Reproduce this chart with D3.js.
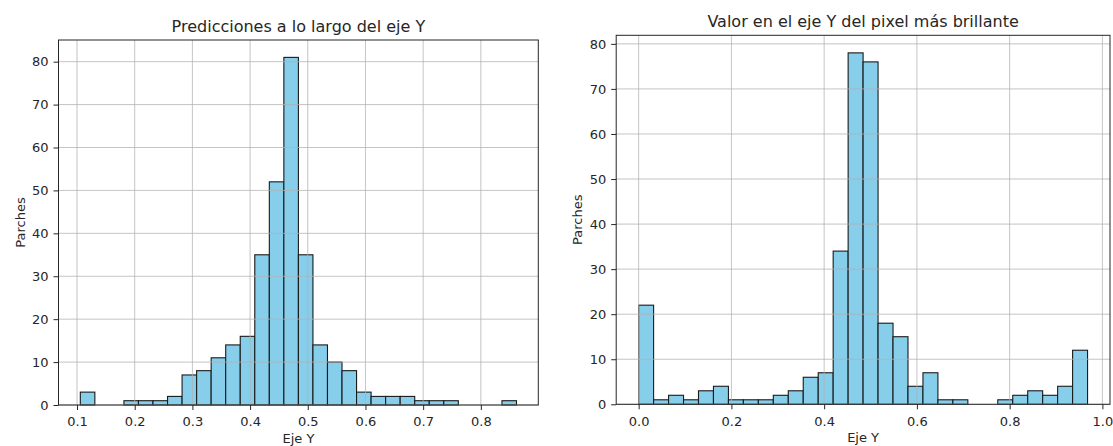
<!DOCTYPE html>
<html>
<head>
<meta charset="utf-8">
<script src="https://cdn.jsdelivr.net/npm/d3@7"></script>
<style>
  body { margin: 0; background: #fff; }
  svg { font-family: "DejaVu Sans", sans-serif; }
</style>
</head>
<body>
<svg width="1113" height="446"></svg>
<script>
// histogram 1: predicciones
var predRange = [0.1057, 0.8618];
var predCounts = [3, 0, 0, 1, 1, 1, 2, 7, 8, 11, 14, 16, 35, 52, 81,
                  35, 14, 10, 8, 3, 2, 2, 2, 1, 1, 1, 0, 0, 0, 1];
var predTicks = [0.1, 0.2, 0.3, 0.4, 0.5, 0.6, 0.7, 0.8];

// histogram 2: pixel mas brillante
var brightRange = [0.0, 0.968];
var brightCounts = [22, 1, 2, 1, 3, 4, 1, 1, 1, 2, 3, 6, 7, 34, 78,
                    76, 18, 15, 4, 7, 1, 1, 0, 0, 1, 2, 3, 2, 4, 12];
var brightTicks = [0.0, 0.2, 0.4, 0.6, 0.8, 1.0];

var yTicks = [0, 10, 20, 30, 40, 50, 60, 70, 80];

var titles = ["Predicciones a lo largo del eje Y", "Valor en el eje Y del pixel más brillante"];
var xLabel = "Eje Y";
var yLabel = "Parches";

var svg = d3.select("svg");

function drawHist(cfg) {
  var lo = cfg.range[0], hi = cfg.range[1];
  var n = cfg.counts.length;
  var w = (hi - lo) / n;
  var bins = cfg.counts.map((c, i) => ({ x0: lo + i * w, x1: lo + (i + 1) * w, count: c }));
  var pad = (hi - lo) * 0.05;

  var x = d3.scaleLinear()
    .domain([lo - pad, hi + pad])
    .range([cfg.left, cfg.right]);
  var y = d3.scaleLinear()
    .domain([0, d3.max(cfg.counts) * 1.05])
    .range([cfg.bottom, cfg.top]);

  var g = svg.append("g");

  // bars
  g.selectAll("rect.bar")
    .data(bins.filter(d => d.count > 0))
    .enter()
    .append("rect")
      .attr("class", "bar")
      .attr("x", d => x(d.x0))
      .attr("y", d => y(d.count))
      .attr("width", d => x(d.x1) - x(d.x0))
      .attr("height", d => y(0) - y(d.count))
      .attr("fill", "#87ceeb")
      .attr("stroke", "#1a1a1a")
      .attr("stroke-width", 1.1);

  // grid on top of bars, like matplotlib
  g.selectAll("line.vgrid")
    .data(cfg.ticks)
    .enter()
    .append("line")
      .attr("x1", d => x(d)).attr("x2", d => x(d))
      .attr("y1", cfg.top).attr("y2", cfg.bottom)
      .attr("stroke", "#b0b0b0").attr("stroke-opacity", 0.75)
      .attr("stroke-width", 1);
  g.selectAll("line.hgrid")
    .data(yTicks)
    .enter()
    .append("line")
      .attr("x1", cfg.left).attr("x2", cfg.right)
      .attr("y1", d => y(d)).attr("y2", d => y(d))
      .attr("stroke", "#b0b0b0").attr("stroke-opacity", 0.75)
      .attr("stroke-width", 1);

  // axes
  var xAxis = d3.axisBottom(x).tickValues(cfg.ticks).tickFormat(d3.format(".1f"))
    .tickSize(5).tickPadding(7);
  var yAxis = d3.axisLeft(y).tickValues(yTicks).tickSize(5).tickPadding(5);

  var gx = g.append("g").attr("transform", "translate(0," + cfg.bottom + ")").call(xAxis);
  var gy = g.append("g").attr("transform", "translate(" + cfg.left + ",0)").call(yAxis);
  [gx, gy].forEach(a => {
    a.select(".domain").remove();
    a.selectAll("text").attr("font-size", 13).attr("fill", "#262626")
      .attr("font-family", "DejaVu Sans");
    a.selectAll("line").attr("stroke", "#262626");
  });

  // frame
  g.append("rect")
    .attr("x", cfg.left).attr("y", cfg.top)
    .attr("width", cfg.right - cfg.left).attr("height", cfg.bottom - cfg.top)
    .attr("fill", "none").attr("stroke", "#262626").attr("stroke-width", 1);

  g.append("text")
    .attr("x", (cfg.left + cfg.right) / 2).attr("y", cfg.top - 8)
    .attr("text-anchor", "middle").attr("font-size", 16).attr("fill", "#262626")
    .text(cfg.title);

  g.append("text")
    .attr("x", (cfg.left + cfg.right) / 2).attr("y", cfg.bottom + 38)
    .attr("text-anchor", "middle").attr("font-size", 13).attr("fill", "#262626")
    .text(xLabel);

  g.append("text")
    .attr("transform", "translate(" + (cfg.left - 34) + "," + ((cfg.top + cfg.bottom) / 2) + ") rotate(-90)")
    .attr("text-anchor", "middle").attr("font-size", 13).attr("fill", "#262626")
    .text(yLabel);
}

drawHist({ range: predRange, counts: predCounts, ticks: predTicks, title: titles[0],
           left: 58.5, right: 538.3, top: 40, bottom: 405 });
drawHist({ range: brightRange, counts: brightCounts, ticks: brightTicks, title: titles[1],
           left: 616.2, right: 1110, top: 35.3, bottom: 404.3 });
</script>
</body>
</html>
